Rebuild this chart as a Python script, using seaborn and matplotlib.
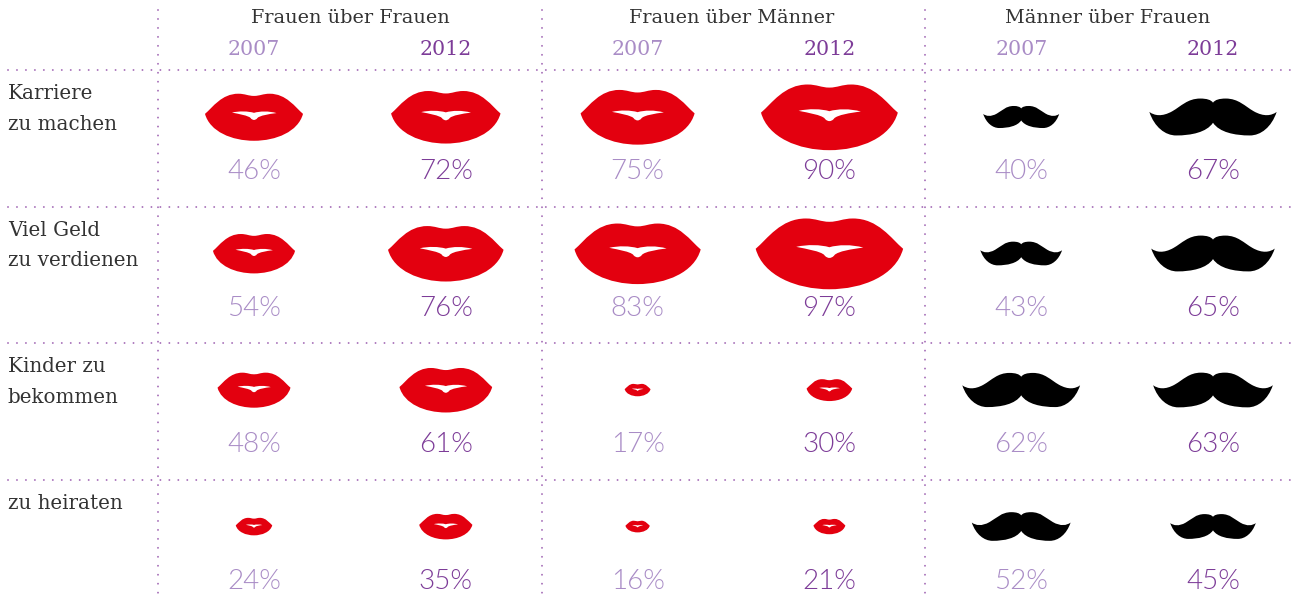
import matplotlib
matplotlib.use('Agg')
import matplotlib.pyplot as plt
import pandas as pd
import seaborn as sns
from matplotlib.path import Path

# Data
groups = ['Frauen über Frauen', 'Frauen über Männer', 'Männer über Frauen']
years = ['2007', '2012']
row_labels = ['Karriere\nzu machen', 'Viel Geld\nzu verdienen', 'Kinder zu\nbekommen', 'zu heiraten']

ff_2007 = [46, 54, 48, 24]
ff_2012 = [72, 76, 61, 35]
fm_2007 = [75, 83, 17, 16]
fm_2012 = [90, 97, 30, 21]
mf_2007 = [40, 43, 62, 52]
mf_2012 = [67, 65, 63, 45]
series = [ff_2007, ff_2012, fm_2007, fm_2012, mf_2007, mf_2012]

LIGHT = '#a98cc6'
DARK = '#7d3c98'
DOTS = '#a66fb8'
RED = '#e3000f'
INK = '#333333'
SERIF = 'DejaVu Serif'
SANS = 'Lato'

sns.set_theme(style='white')


def make_path(start, curves, holes=()):
    verts, codes = [start], [Path.MOVETO]
    for c in curves:
        verts += list(c)
        codes += [Path.CURVE4] * 3
    verts.append(start)
    codes.append(Path.CLOSEPOLY)
    for hstart, hcurves in holes:
        verts.append(hstart)
        codes.append(Path.MOVETO)
        for c in hcurves:
            verts += list(c)
            codes += [Path.CURVE4] * 3
        verts.append(hstart)
        codes.append(Path.CLOSEPOLY)
    return Path(verts, codes)


# icon outlines, x runs from -1 to 1
lips = make_path((-1, .064), [
    ((-.84, .20), (-.66, .475), (-.32, .475)),
    ((-.18, .475), (-.12, .43), (0, .43)),
    ((.12, .43), (.18, .475), (.32, .475)),
    ((.66, .475), (.84, .20), (1, .064)),
    ((.90, -.30), (.45, -.485), (0, -.485)),
    ((-.45, -.485), (-.90, -.30), (-1, .064)),
], holes=[((-.45, .09), [
    ((-.30, .06), (-.12, .03), (-.07, -.02)),
    ((-.05, -.05), (-.02, -.06), (0, -.06)),
    ((.02, -.06), (.05, -.05), (.07, -.02)),
    ((.12, .03), (.30, .06), (.46, .08)),
    ((.30, .125), (.12, .12), (0, .085)),
    ((-.12, .12), (-.30, .125), (-.45, .09)),
])])

moustache = make_path((-1, .08), [
    ((-.92, .02), (-.80, .0), (-.64, .09)),
    ((-.50, .17), (-.40, .29), (-.20, .29)),
    ((-.10, .29), (-.03, .27), (0, .225)),
    ((.03, .27), (.10, .29), (.20, .29)),
    ((.40, .29), (.50, .17), (.64, .09)),
    ((.80, .0), (.92, .02), (1, .08)),
    ((.92, -.16), (.75, -.29), (.58, -.29)),
    ((.34, -.29), (.10, -.24), (0, -.09)),
    ((-.10, -.24), (-.34, -.29), (-.58, -.29)),
    ((-.75, -.29), (-.92, -.16), (-1, .08)),
])

rows = []
for col, values in enumerate(series):
    for row, pct in enumerate(values):
        rows.append({'col': col, 'row': row, 'pct': pct,
                     'icon': 'moustache' if col >= 4 else 'lips'})
df = pd.DataFrame(rows)

fig = plt.figure(figsize=(12.94, 5.97), dpi=100, facecolor='white')
ax = fig.add_axes([0, 0, 1, 1])


def sizes_for(values, px_per_pct, override=None):
    # scatter size is in points squared, icon width follows the percentage
    out = {}
    for v in values:
        w = px_per_pct * v
        if override and v in override:
            w = override[v]
        out[v] = (w * 0.72) ** 2
    return out


lip_df = df[df['icon'] == 'lips']
must_df = df[df['icon'] == 'moustache']
sns.scatterplot(data=lip_df, x='col', y='row', size='pct',
                sizes=sizes_for(lip_df['pct'].unique(), 1.52, {46: 98}),
                marker=lips, color=RED, linewidth=0, legend=False, ax=ax)
sns.scatterplot(data=must_df, x='col', y='row', size='pct',
                sizes=sizes_for(must_df['pct'].unique(), 1.9),
                marker=moustache, color='black', linewidth=0, legend=False, ax=ax)

ax.set_xlim(-254 / 191.8, (1294 - 254) / 191.8)
ax.set_ylim((597 - 117) / 136.5, -117 / 136.5)
ax.axis('off')

# dotted grid
dotted = (0, (0.01, 4.6))
for y in [-.344, .66, 1.656, 2.656]:
    ax.plot([-1.283, 5.43], [y, y], color=DOTS, lw=1.4, ls=dotted, dash_capstyle='round')
for x in [-.5, 1.5, 3.5]:
    ax.plot([x, x], [-.785, 3.52], color=DOTS, lw=1.4, ls=dotted, dash_capstyle='round')

# headers
for x, g in zip([.5, 2.49, 4.45], groups):
    ax.text(x, -.725, g, ha='center', va='center', fontsize=13.9, color=INK, family=SERIF)
for col in range(6):
    ax.text(col, -.498, years[col % 2], ha='center', va='center', fontsize=14.8,
            color=LIGHT if col % 2 == 0 else DARK, family=SERIF)

# row labels
for row, lab in enumerate(row_labels):
    ax.text(-1.283, row - .24, lab, ha='left', va='top', fontsize=14.3, color=INK,
            family=SERIF, linespacing=1.78)

# percentages
for _, r in df.iterrows():
    ax.text(r['col'], r['row'] + .4, f"{r['pct']}%", ha='center', va='center', fontsize=20,
            color=LIGHT if r['col'] % 2 == 0 else DARK, family=SANS, fontweight=300)

fig.savefig('out.png', dpi=100)
